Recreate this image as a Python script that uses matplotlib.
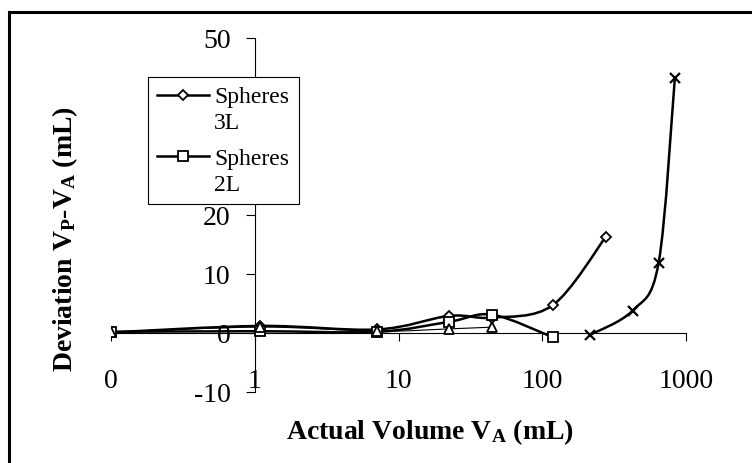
import matplotlib
matplotlib.use('Agg')
import matplotlib.pyplot as plt
import numpy as np
from matplotlib.path import Path
from matplotlib.patches import PathPatch, Rectangle
from matplotlib.lines import Line2D
from matplotlib.ticker import FixedLocator, FixedFormatter, NullLocator

plt.rcParams['font.family'] = ['Liberation Serif', 'DejaVu Serif']
plt.rcParams['mathtext.fontset'] = 'custom'
plt.rcParams['mathtext.rm'] = 'Liberation Serif'
plt.rcParams['mathtext.it'] = 'Liberation Serif:italic'
plt.rcParams['mathtext.bf'] = 'Liberation Serif:bold'
plt.rcParams['axes.unicode_minus'] = False

# values: actual volume (mL) vs deviation (mL)
vol_3L = [0.1, 1.08, 7.1, 22.5, 45, 118, 277]
dev_3L = [0.1, 1.2, 0.6, 2.9, 2.6, 4.7, 16.3]

vol_2L = [0.1, 1.08, 7.1, 22.5, 45, 118]
dev_2L = [0.2, 0.3, 0.2, 1.9, 3.1, -0.7]

vol_tri = [0.1, 1.08, 7.1, 22.5, 45]
dev_tri = [0.1, 1.0, 0.3, 0.7, 1.0]

vol_x = [216, 425, 645, 837]
dev_x = [-0.3, 3.8, 11.9, 43.3]

legend_labels = ["Spheres\n3L", "Spheres\n2L"]
x_ticks = [0.1, 1, 10, 100, 1000]
x_tick_labels = ["0", "1", "10", "100", "1000"]
y_ticks = [-10, 0, 10, 20, 30, 40, 50]
# 30 and 40 sit behind the legend box in the original
y_tick_labels = ["-10", "0", "10", "20", "", "", "50"]


def smooth_path(xs, ys, t=1/6):
    # excel style smoothed line: bezier segments built in (log x, y) space
    pts = np.column_stack([np.log10(xs), np.asarray(ys, float)])
    n = len(pts)
    verts = [pts[0]]
    codes = [Path.MOVETO]
    for i in range(n - 1):
        p0 = pts[max(i - 1, 0)]
        p1 = pts[i]
        p2 = pts[i + 1]
        p3 = pts[min(i + 2, n - 1)]
        verts += [p1 + (p2 - p0) * t, p2 - (p3 - p1) * t, p2]
        codes += [Path.CURVE4] * 3
    verts = np.array(verts)
    verts[:, 0] = 10 ** verts[:, 0]
    return Path(verts, codes)


fig = plt.figure(figsize=(7.52, 4.64), dpi=100)
ax = fig.add_axes([111/752, 1 - 393/464, 575/752, 354/464])
ax.set_xscale('log')
ax.set_xlim(0.1, 1000)
ax.set_ylim(-10, 50)

series = [
    (vol_3L, dev_3L, 'D', 5.2, 1.8),
    (vol_2L, dev_2L, 's', 7.0, 1.8),
    (vol_tri, dev_tri, '^', 7.0, 0.8),
    (vol_x, dev_x, 'x', 7.5, 1.8),
]
for xs, ys, mk, ms, lw in series:
    ax.add_patch(PathPatch(smooth_path(xs, ys), fill=False, lw=lw,
                           ec='black', zorder=2, capstyle='round'))
for xs, ys, mk, ms, lw in series:
    ax.plot(xs, ys, linestyle='none', marker=mk, ms=ms, mfc='white',
            mec='black', mew=1.3 if mk != 'x' else 1.6, zorder=3)

for s in ['top', 'right']:
    ax.spines[s].set_visible(False)
ax.spines['left'].set_position(('data', 1))
ax.spines['bottom'].set_position(('data', 0))
ax.spines['left'].set_linewidth(0.8)
ax.spines['bottom'].set_linewidth(0.8)

ax.xaxis.set_major_locator(FixedLocator(x_ticks))
ax.xaxis.set_major_formatter(FixedFormatter(x_tick_labels))
ax.xaxis.set_minor_locator(NullLocator())
ax.set_yticks(y_ticks)
ax.set_yticklabels(y_tick_labels)
ax.tick_params(axis='x', direction='out', length=6, width=0.8, pad=19, labelsize=20)
ax.tick_params(axis='y', direction='out', length=6.5, width=0.8, pad=11, labelsize=20)

fig.text(430/752, 1 - 432/464, r'Actual Volume V$_{\mathbf{A}}$ (mL)',
         fontsize=20, fontweight='bold', ha='center', va='center')
fig.text(65/752, 1 - 239/464, r'Deviation V$_{\mathbf{P}}$-V$_{\mathbf{A}}$ (mL)',
         fontsize=20, fontweight='bold', ha='center', va='center', rotation=90)

handles = [Line2D([], [], color='black', lw=1.8, marker=m, ms=s, mfc='white',
                  mec='black', mew=1.3) for _, _, m, s, _ in series[:2]]
leg = fig.legend(handles, legend_labels, loc='upper left',
                 bbox_to_anchor=(148/752, 1 - 78/464), borderaxespad=0,
                 fontsize=17, frameon=True, fancybox=False, framealpha=1,
                 edgecolor='black', borderpad=0.4, handlelength=2.2,
                 handletextpad=0.2, labelspacing=0.5)
leg.get_frame().set_linewidth(0.8)
leg.set_zorder(5)
for t in leg.get_texts():
    t.set_linespacing(1.3)
# put the handle next to the first line of each wrapped label
for col in leg._legend_handle_box.get_children():
    col.sep = leg.labelspacing * 17 * 100 / 72 * 0.9
    for row in col.get_children():
        row.align = 'top'

fig.add_artist(Rectangle((8.7/752, -0.05), 1.1, 1 - 13/464 + 0.05,
                         transform=fig.transFigure, fill=False, lw=2.2,
                         ec='black'))

fig.savefig('out.png', dpi=100)
